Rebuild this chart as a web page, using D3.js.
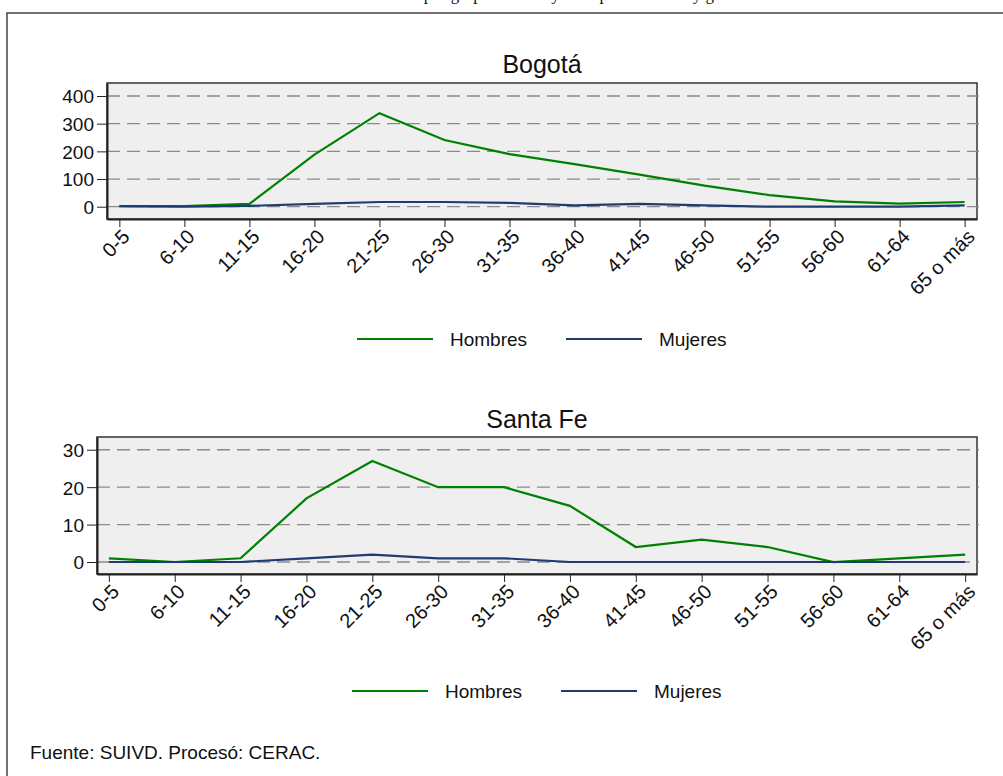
<!DOCTYPE html>
<html>
<head>
<meta charset="utf-8">
<script src="https://cdn.jsdelivr.net/npm/d3@7"></script>
<style>
  body { margin: 0; background: #fff; }
  svg text { font-family: "Liberation Sans", Arial, sans-serif; fill: #111; }
</style>
</head>
<body>
<svg id="chart" width="1003" height="776"></svg>
<script>
// age groups shared by both panels
let ageGroups = ['0-5', '6-10', '11-15', '16-20', '21-25', '26-30', '31-35',
  '36-40', '41-45', '46-50', '51-55', '56-60', '61-64', '65 o más'];

let bogotaHombres = [2, 2, 10, 188, 338, 241, 190, 154, 116, 76, 42, 19, 11, 17];
let bogotaMujeres = [2, 0, 3, 10, 17, 17, 14, 5, 10, 5, 0, 0, 0, 5];
let bogotaTicks = [0, 100, 200, 300, 400];

let santaFeHombres = [1, 0, 1, 17, 27, 20, 20, 15, 4, 6, 4, 0, 1, 2];
let santaFeMujeres = [0, 0, 0, 1, 2, 1, 1, 0, 0, 0, 0, 0, 0, 0];
let santaFeTicks = [0, 10, 20, 30];

let seriesNames = ['Hombres', 'Mujeres'];
let colors = ['#008000', '#1f3b73'];

let svg = d3.select('#chart');

// caption above the frame, cut by the top edge as in the source page
svg.append('text')
  .attr('x', 555)
  .attr('y', 0)
  .attr('text-anchor', 'middle')
  .style('font-family', '"Liberation Serif", "Times New Roman", serif')
  .style('font-size', '17px')
  .text('Víctimas por grupo de edad y sexo por localidad y género');

// outer frame
svg.append('rect')
  .attr('x', 7)
  .attr('y', 13)
  .attr('width', 1010)
  .attr('height', 800)
  .style('fill', 'none')
  .style('stroke', '#444')
  .style('stroke-width', 1.5);

function drawPanel(cfg) {
  let x = d3.scalePoint()
    .domain(ageGroups)
    .range([cfg.left, cfg.right])
    .padding(cfg.pad);

  let y = d3.scaleLinear()
    .domain(cfg.yDomain)
    .range([cfg.bottom, cfg.top]);

  let g = svg.append('g');

  g.append('rect')
    .attr('x', cfg.left)
    .attr('y', cfg.top)
    .attr('width', cfg.right - cfg.left)
    .attr('height', cfg.bottom - cfg.top)
    .style('fill', '#efefef')
    .style('stroke', '#333')
    .style('stroke-width', 1.5);

  // dashed grid
  g.selectAll('.grid')
    .data(cfg.ticks)
    .enter()
    .append('line')
    .attr('x1', cfg.left)
    .attr('x2', cfg.right + 2)
    .attr('y1', d => y(d))
    .attr('y2', d => y(d))
    .style('stroke', '#8a8a8a')
    .style('stroke-width', 1.3)
    .style('stroke-dasharray', '13,7');

  let yAxis = d3.axisLeft(y)
    .tickValues(cfg.ticks)
    .tickSizeInner(10)
    .tickSizeOuter(0)
    .tickPadding(3);

  let ya = g.append('g')
    .attr('transform', 'translate(' + cfg.left + ',0)')
    .call(yAxis);
  ya.select('.domain').style('stroke', '#222').style('stroke-width', 2);
  ya.selectAll('line').style('stroke', '#222');
  ya.selectAll('text')
    .style('font-size', '19px')
    .style('font-family', '"Liberation Sans", Arial, sans-serif')
    .attr('dy', '0.36em');

  let xAxis = d3.axisBottom(x)
    .tickSizeInner(8)
    .tickSizeOuter(0);

  let xa = g.append('g')
    .attr('transform', 'translate(0,' + cfg.bottom + ')')
    .call(xAxis);
  xa.select('.domain').style('stroke', '#222').style('stroke-width', 2);
  xa.selectAll('line').style('stroke', '#222');
  xa.selectAll('text')
    .style('font-size', '20px')
    .style('font-family', '"Liberation Sans", Arial, sans-serif')
    .style('text-anchor', 'end')
    .attr('x', 0)
    .attr('y', 0)
    .attr('dy', 0)
    .attr('transform', 'translate(11,19) rotate(-45)');

  let line = d3.line()
    .x((d, i) => x(ageGroups[i]))
    .y(d => y(d));

  cfg.series.forEach(function(s, i) {
    g.append('path')
      .datum(s)
      .attr('d', line)
      .style('fill', 'none')
      .style('stroke', colors[i])
      .style('stroke-width', 2.2);
  });

  // title
  g.append('text')
    .attr('x', (cfg.left + cfg.right) / 2)
    .attr('y', cfg.titleY)
    .attr('text-anchor', 'middle')
    .style('font-size', '25px')
    .text(cfg.title);

  // legend
  let lg = g.append('g')
    .attr('transform', 'translate(' + cfg.legendX + ',' + cfg.legendY + ')');
  seriesNames.forEach(function(name, i) {
    let ox = i * 209;
    lg.append('line')
      .attr('x1', ox)
      .attr('x2', ox + 76)
      .attr('y1', 0)
      .attr('y2', 0)
      .style('stroke', colors[i])
      .style('stroke-width', 2);
    lg.append('text')
      .attr('x', ox + 93)
      .attr('y', 7)
      .style('font-size', '19px')
      .text(name);
  });
}

drawPanel({
  title: 'Bogotá',
  titleY: 73,
  left: 107, right: 977, top: 83, bottom: 219,
  pad: 0.19,
  yDomain: [-44.4, 447],
  ticks: bogotaTicks,
  series: [bogotaHombres, bogotaMujeres],
  legendX: 357, legendY: 339
});

drawPanel({
  title: 'Santa Fe',
  titleY: 428,
  left: 97, right: 977, top: 437, bottom: 574,
  pad: 0.18,
  yDomain: [-3.2, 33.4],
  ticks: santaFeTicks,
  series: [santaFeHombres, santaFeMujeres],
  legendX: 352, legendY: 691
});

// source note
svg.append('text')
  .attr('x', 30)
  .attr('y', 759)
  .style('font-size', '19px')
  .text('Fuente: SUIVD. Procesó: CERAC.');
</script>
</body>
</html>
